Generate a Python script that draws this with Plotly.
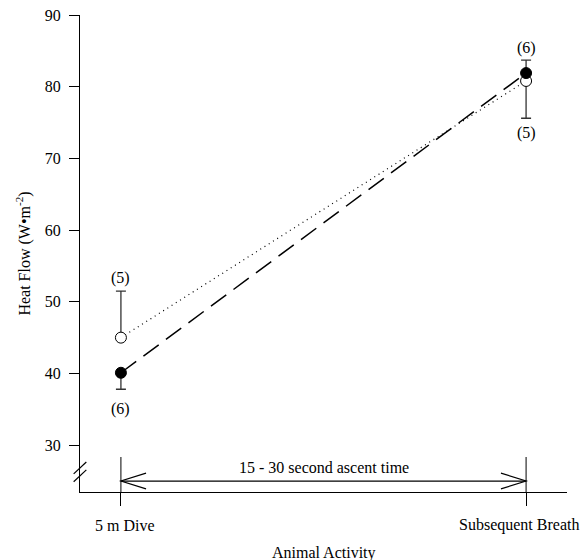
import plotly.graph_objects as go

# ---- data ----
categories = ["5 m Dive", "Subsequent Breath"]
x_pos = [0, 1]
filled_mean = [40.1, 81.9]
filled_err_plus = [0, 1.8]
filled_err_minus = [2.3, 0]
filled_n = ["(6)", "(6)"]
open_mean = [45.0, 80.8]
open_err_plus = [6.5, 0]
open_err_minus = [0, 5.2]
open_n = ["(5)", "(5)"]
y_ticks = [30, 40, 50, 60, 70, 80, 90]
arrow_label = "15 - 30 second ascent time"

FONT = "Liberation Serif"
y_range = [23.47, 90]
x_range = [-0.101, 1.101]
FS = 16
PLOT_H = 560 - 15 - 68

fig = go.Figure()

fig.add_trace(go.Scatter(
    x=x_pos, y=open_mean, mode="lines+markers",
    line=dict(color="black", width=1.2, dash="1px,4px"),
    marker=dict(symbol="circle", size=11, color="white", line=dict(color="black", width=1)),
    error_y=dict(type="data", symmetric=False, array=open_err_plus, arrayminus=open_err_minus,
                 color="#333", thickness=1.3, width=5),
    showlegend=False,
))
fig.add_trace(go.Scatter(
    x=x_pos, y=filled_mean, mode="lines+markers",
    line=dict(color="black", width=1.5, dash="19px,9px"),
    marker=dict(symbol="circle", size=11, color="black", line=dict(color="black", width=1)),
    error_y=dict(type="data", symmetric=False, array=filled_err_plus, arrayminus=filled_err_minus,
                 color="#333", thickness=1.3, width=5),
    showlegend=False,
))

# n labels
ann = []
for i in range(2):
    if filled_err_plus[i] > 0:
        ann.append(dict(x=x_pos[i], y=filled_mean[i] + filled_err_plus[i], text=filled_n[i],
                        yshift=12, showarrow=False))
    else:
        ann.append(dict(x=x_pos[i], y=filled_mean[i] - filled_err_minus[i], text=filled_n[i],
                        yshift=-20, showarrow=False))
    if open_err_plus[i] > 0:
        ann.append(dict(x=x_pos[i], y=open_mean[i] + open_err_plus[i], text=open_n[i],
                        yshift=13, showarrow=False))
    else:
        ann.append(dict(x=x_pos[i], y=open_mean[i] - open_err_minus[i], text=open_n[i],
                        yshift=-15, showarrow=False))

arrow_y = 25.0
ann.append(dict(x=(x_pos[0] + x_pos[1]) / 2, y=arrow_y, text=arrow_label, yshift=14,
                showarrow=False))

for a in ann:
    a["xref"] = "x"
    a["yref"] = "y"

# category labels under the axis
label_shift = [4, -7]
for i, cat in enumerate(categories):
    ann.append(dict(x=x_pos[i], xref="x", y=-33 / PLOT_H, yref="paper", yanchor="middle",
                    text=cat, showarrow=False, xshift=label_shift[i]))
# x axis title
ann.append(dict(x=0.5, xref="paper", y=-61 / PLOT_H, yref="paper", yanchor="middle",
                text="Animal Activity", showarrow=False))

for a in ann:
    a["font"] = dict(size=FS, family=FONT, color="black")

shapes = []
# vertical markers at each category
for xp in x_pos:
    shapes.append(dict(type="line", xref="x", yref="y", x0=xp, x1=xp, y0=y_range[0], y1=28.35,
                       line=dict(color="black", width=1)))
# double arrow
shapes.append(dict(type="line", xref="x", yref="y", x0=x_pos[0], x1=x_pos[1], y0=arrow_y, y1=arrow_y,
                   line=dict(color="black", width=1.2)))
hx = 0.062
hy = 1.1
shapes.append(dict(type="path", xref="x", yref="y",
                   path=f"M {x_pos[0]+hx} {arrow_y+hy} L {x_pos[0]} {arrow_y} L {x_pos[0]+hx} {arrow_y-hy}",
                   line=dict(color="black", width=1.2)))
shapes.append(dict(type="path", xref="x", yref="y",
                   path=f"M {x_pos[1]-hx} {arrow_y+hy} L {x_pos[1]} {arrow_y} L {x_pos[1]-hx} {arrow_y-hy}",
                   line=dict(color="black", width=1.2)))
# axis break marks
for (ya, yb) in ((26.0, 27.65), (24.9, 26.55)):
    shapes.append(dict(type="line", xref="paper", yref="y",
                       x0=-0.013, x1=0.013, y0=ya, y1=yb,
                       line=dict(color="black", width=1.2)))

fig.update_layout(
    width=588, height=560,
    margin=dict(l=80, r=21, t=15, b=68),
    paper_bgcolor="white", plot_bgcolor="white",
    font=dict(family=FONT, size=FS, color="black"),
    annotations=ann, shapes=shapes,
    xaxis=dict(range=x_range, tickvals=x_pos, showticklabels=False, showgrid=False, zeroline=False,
               showline=True, linecolor="black", linewidth=1.2, ticks="outside", ticklen=13,
               tickcolor="black", tickwidth=1, automargin=False),
    yaxis=dict(range=y_range, tickvals=y_ticks, showgrid=False, zeroline=False,
               showline=True, linecolor="black", linewidth=1.2, ticks="outside", ticklen=10,
               tickcolor="black", tickwidth=1.2, ticklabelstandoff=5, automargin=False,
               title=dict(text="Heat Flow (W•m<sup>-2</sup>)", font=dict(size=FS), standoff=10)),
)

fig.write_html("out.html")
